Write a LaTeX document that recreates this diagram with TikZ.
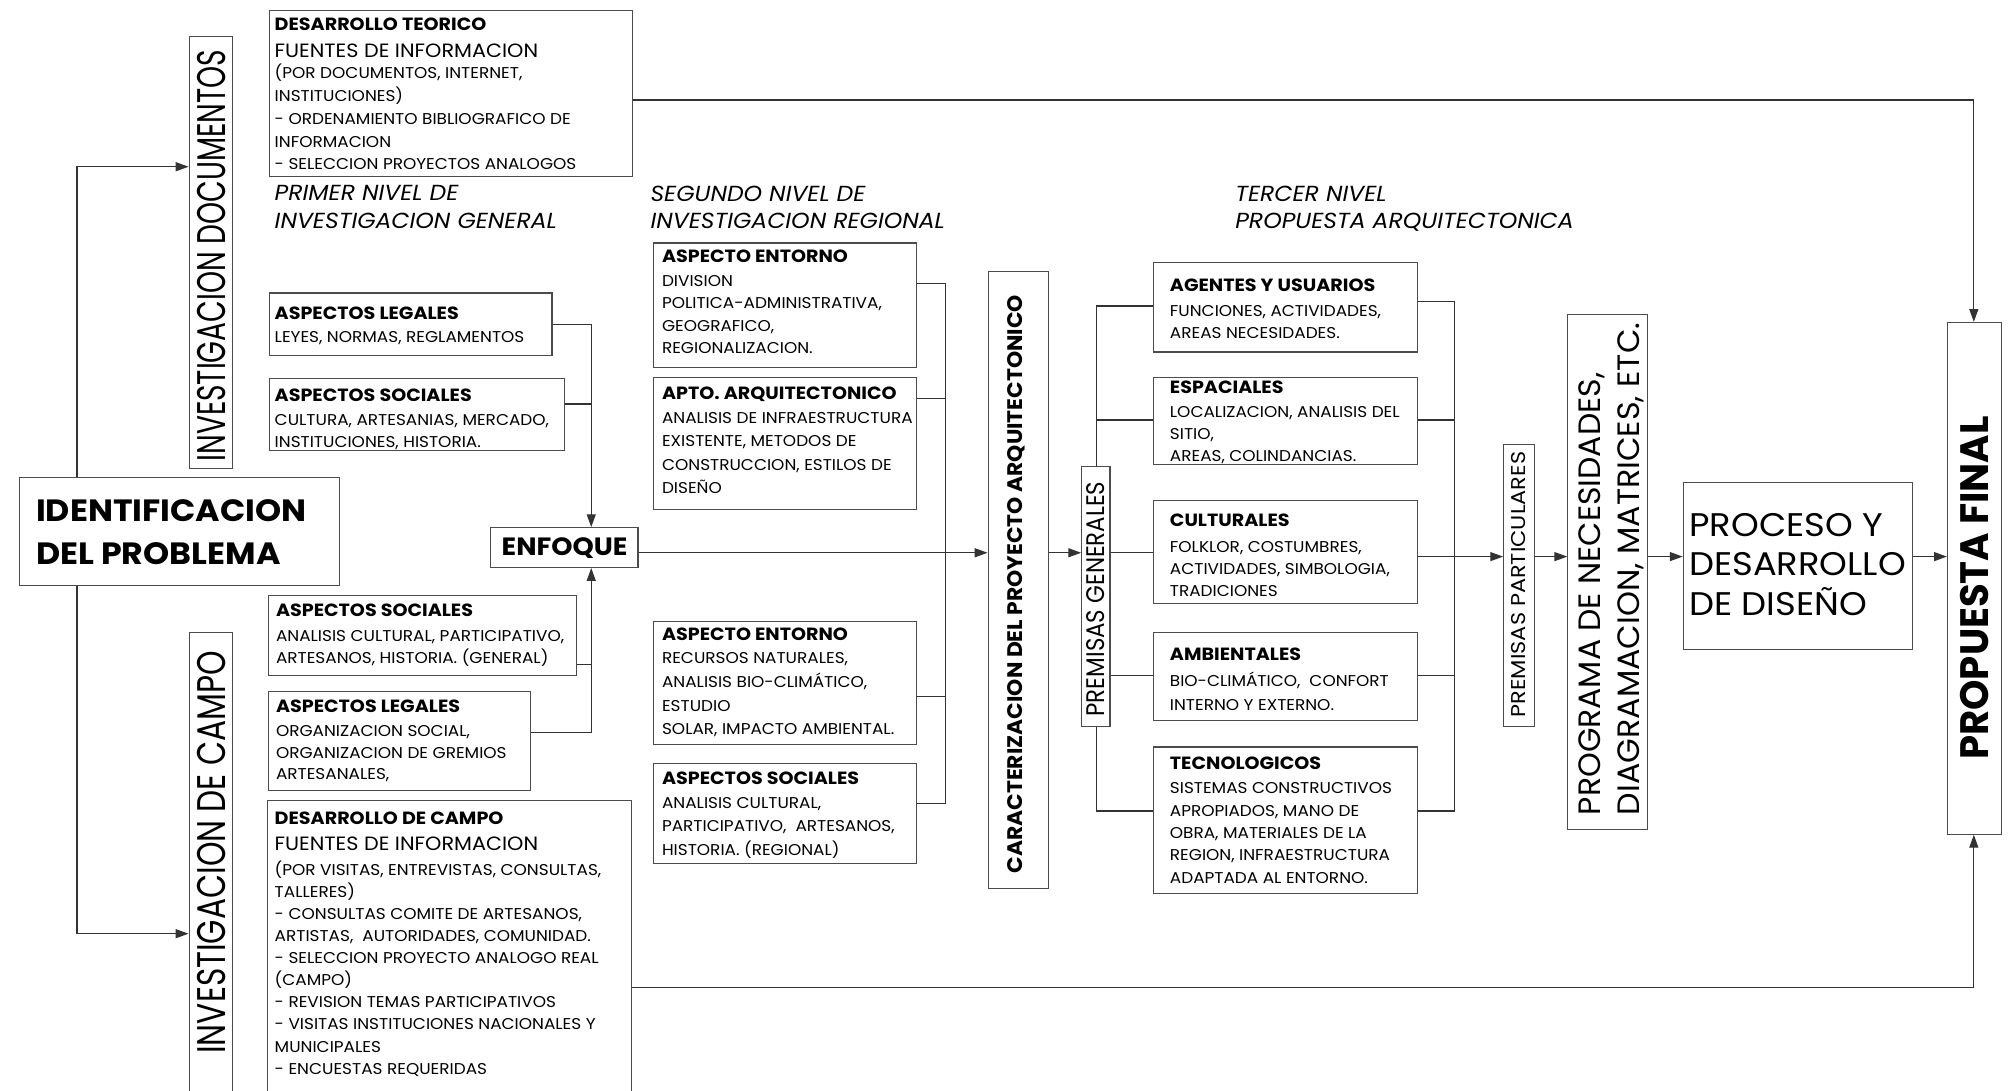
\documentclass[tikz,border=0pt]{standalone}
\usepackage{fontspec}
\setmainfont{Poppins}[FakeStretch=1.08]
\usetikzlibrary{arrows.meta}
\newcommand\bodyfont{\fontsize{12.2}{14}\selectfont}
\newcommand\hdfont{\bfseries\fontsize{13.8}{16}\selectfont}
\newcommand\blines[5]{\foreach \tl [count=\ii from 0] in {#5}{\node[bd] (#1-\ii) at (#2,{#3+\ii*#4}) {\tl};}}
\newcommand\mybox[5]{\node[box,minimum width={(#4)-(#2)},minimum height={(#5)-(#3)}] (#1) at (#2,#3) {};}
\begin{document}
\begin{tikzpicture}[x=1pt,y=-1pt,
 box/.style={draw=black!70,line width=0.9pt,anchor=north west,inner sep=0pt},
 ln/.style={draw=black!80,line width=0.9pt},
 arr/.style={ln,-{Triangle[length=10pt,width=7pt]}},
 bd/.style={anchor=base west,inner sep=0pt,yshift=-4.3pt,font=\bodyfont},
 hd/.style={anchor=base west,inner sep=0pt,yshift=-4.8pt,font=\hdfont},
 big/.style={anchor=base west,inner sep=0pt,yshift=-5.2pt,font=\fontsize{15}{17}\selectfont},
 lvl/.style={anchor=base west,inner sep=0pt,font=\itshape\fontsize{17}{20}\selectfont},
 rot/.style={rotate=90,inner sep=0pt}]
\path[fill=white] (0,0) rectangle (1568,850);
\useasboundingbox (0,0) rectangle (1568,850);

% ---------- boxes ----------
\mybox{invdoc}{147}{28}{181}{365}
\mybox{invcampo}{147}{493}{181}{870}
\mybox{ident}{15}{372}{264}{456}
\mybox{dt}{210}{8}{493}{137}
\mybox{al1}{210}{228}{430}{277}
\mybox{as1}{210}{295}{440}{351}
\mybox{enf}{382}{411}{497}{442}
\mybox{as2}{209}{464}{449}{526}
\mybox{al2}{209}{539}{413}{616}
\mybox{dc}{208}{624}{492}{870}
\mybox{ae1}{509}{189}{714}{286}
\mybox{apto}{509}{294}{714}{397}
\mybox{ae2}{509}{484}{714}{580}
\mybox{as3}{509}{595}{714}{673}
\mybox{car}{770}{211}{817}{692}
\mybox{pg}{843}{363}{865}{566}
\mybox{ag}{899}{204}{1105}{274}
\mybox{esp}{899}{294}{1105}{362}
\mybox{cul}{899}{390}{1105}{470}
\mybox{amb}{899}{493}{1105}{561}
\mybox{tec}{899}{582}{1105}{696}
\mybox{pp}{1172}{346}{1196}{566}
\mybox{prog}{1222}{245}{1284}{646}
\mybox{proc}{1312}{376}{1491}{506}
\mybox{pf}{1518}{251}{1560}{650}

% ---------- level labels ----------
\node[lvl] (l1a) at (214,156) {PRIMER NIVEL DE};
\node[lvl] (l1b) at (214,178.5) {INVESTIGACION GENERAL};
\node[lvl] (l2a) at (507,157) {SEGUNDO NIVEL DE};
\node[lvl] (l2b) at (507,178.5) {INVESTIGACION REGIONAL};
\node[lvl] (l3a) at (963,157) {TERCER NIVEL};
\node[lvl] (l3b) at (963,178.5) {PROPUESTA ARQUITECTONICA};

% ---------- titles ----------
\node[anchor=base west,inner sep=0pt,font=\bfseries\fontsize{24}{30}\selectfont] (ident-a) at (28,406.8) {IDENTIFICACION};
\node[anchor=base west,inner sep=0pt,font=\bfseries\fontsize{24}{30}\selectfont] (ident-b) at (28,440) {DEL PROBLEMA};
\node[anchor=base west,inner sep=0pt,font=\bfseries\fontsize{19.5}{22}\selectfont] (enf-t) at (391,433.4) {ENFOQUE};
\node[anchor=base west,inner sep=0pt,font=\fontsize{25.5}{30}\selectfont] (proc-a) at (1317,418) {PROCESO Y};
\node[anchor=base west,inner sep=0pt,font=\fontsize{25.5}{30}\selectfont] (proc-b) at (1317,449) {DESARROLLO};
\node[anchor=base west,inner sep=0pt,font=\fontsize{25.5}{30}\selectfont] (proc-c) at (1317,480) {DE DISEÑO};

\node[rot] (invdoc-t) at (165,199.4) {\resizebox{321pt}{22pt}{INVESTIGACION DOCUMENTOS}};
\node[rot] (invcampo-t) at (165,664.6) {\resizebox{314pt}{22pt}{INVESTIGACION DE CAMPO}};
\node[rot] (car-t) at (792.5,455.5) {\resizebox{451pt}{11.7pt}{\bfseries CARACTERIZACION DEL PROYECTO ARQUITECTONICO}};
\node[rot] (pg-t) at (854.5,467) {\resizebox{183pt}{14pt}{PREMISAS GENERALES}};
\node[rot] (pp-t) at (1184,455.7) {\resizebox{207pt}{11pt}{PREMISAS PARTICULARES}};
\node[rotate=90,anchor=base west,inner sep=0pt] (prog-a) at (1248.3,635.8) {\resizebox{345pt}{17pt}{PROGRAMA DE NECESIDADES,}};
\node[rotate=90,anchor=base west,inner sep=0pt] (prog-b) at (1278.6,635.8) {\resizebox{384pt}{17pt}{DIAGRAMACION, MATRICES, ETC.}};
\node[rot] (pf-t) at (1539.8,458.4) {\resizebox{268pt}{22pt}{\bfseries PROPUESTA FINAL}};

% ---------- box texts, left ----------
\node[hd] (dt-h) at (214,18.7) {DESARROLLO TEORICO};
\node[big] (dt-f) at (214,39.4) {FUENTES DE INFORMACION};
\blines{dt}{214}{57}{17.8}{{(POR DOCUMENTOS, INTERNET,},{INSTITUCIONES)},{- ORDENAMIENTO BIBLIOGRAFICO DE},{INFORMACION},{- SELECCION PROYECTOS ANALOGOS}}

\node[hd] (al1-h) at (214,244) {ASPECTOS LEGALES};
\blines{al1}{214}{263}{17.5}{{LEYES, NORMAS, REGLAMENTOS}}
\node[hd] (as1-h) at (214,308.5) {ASPECTOS SOCIALES};
\blines{as1}{214}{327.7}{17}{{CULTURA, ARTESANIAS, MERCADO,},{INSTITUCIONES, HISTORIA.}}

\node[hd] (as2-h) at (215,476) {ASPECTOS SOCIALES};
\blines{as2}{215}{495.6}{17.2}{{ANALISIS CULTURAL, PARTICIPATIVO,},{ARTESANOS, HISTORIA. (GENERAL)}}
\node[hd] (al2-h) at (215,550.7) {ASPECTOS LEGALES};
\blines{al2}{215}{570}{16.9}{{ORGANIZACION SOCIAL,},{ORGANIZACION DE GREMIOS},{ARTESANALES,}}

\node[hd] (dc-h) at (214,638.4) {DESARROLLO DE CAMPO};
\node[big] (dc-f) at (214,657.6) {FUENTES DE INFORMACION};
\blines{dc}{214}{678}{17.25}{{(POR VISITAS, ENTREVISTAS, CONSULTAS,},{TALLERES)},{- CONSULTAS COMITE DE ARTESANOS,},{ARTISTAS,\ \ AUTORIDADES, COMUNIDAD.},{- SELECCION PROYECTO ANALOGO REAL},{(CAMPO)},{- REVISION TEMAS PARTICIPATIVOS},{- VISITAS INSTITUCIONES NACIONALES Y},{MUNICIPALES},{- ENCUESTAS REQUERIDAS}}

% ---------- regional ----------
\node[hd] (ae1-h) at (516,199.6) {ASPECTO ENTORNO};
\blines{ae1}{516}{219.1}{17.5}{{DIVISION},{POLITICA-ADMINISTRATIVA,},{GEOGRAFICO,},{REGIONALIZACION.}}
\node[hd] (apto-h) at (516,306.7) {APTO. ARQUITECTONICO};
\blines{apto}{516}{326.2}{18}{{ANALISIS DE INFRAESTRUCTURA},{EXISTENTE, METODOS DE},{CONSTRUCCION, ESTILOS DE},{DISEÑO}}
\node[hd] (ae2-h) at (516,494.6) {ASPECTO ENTORNO};
\blines{ae2}{516}{513.3}{18.4}{{RECURSOS NATURALES,},{ANALISIS BIO-CLIMÁTICO,},{ESTUDIO},{SOLAR, IMPACTO AMBIENTAL.}}
\node[hd] (as3-h) at (516,606.9) {ASPECTOS SOCIALES};
\blines{as3}{516}{626.4}{18}{{ANALISIS CULTURAL,},{PARTICIPATIVO,\ \ ARTESANOS,},{HISTORIA. (REGIONAL)}}

% ---------- third level ----------
\node[hd] (ag-h) at (912,222.2) {AGENTES Y USUARIOS};
\blines{ag}{912}{242.5}{17}{{FUNCIONES, ACTIVIDADES,},{AREAS NECESIDADES.}}
\node[hd] (esp-h) at (912,302) {ESPACIALES};
\blines{esp}{912}{321.5}{17}{{LOCALIZACION, ANALISIS DEL},{SITIO,},{AREAS, COLINDANCIAS.}}
\node[hd] (cul-h) at (912,406) {CULTURALES};
\blines{cul}{912}{426.3}{17.1}{{FOLKLOR, COSTUMBRES,},{ACTIVIDADES, SIMBOLOGIA,},{TRADICIONES}}
\node[hd] (amb-h) at (912,509.9) {AMBIENTALES};
\blines{amb}{912}{531.2}{18.2}{{BIO-CLIMÁTICO,\ \ CONFORT},{INTERNO Y EXTERNO.}}
\node[hd] (tec-h) at (912,595) {TECNOLOGICOS};
\blines{tec}{912}{614.7}{17.4}{{SISTEMAS CONSTRUCTIVOS},{APROPIADOS, MANO DE},{OBRA, MATERIALES DE LA},{REGION, INFRAESTRUCTURA},{ADAPTADA AL ENTORNO.}}

% ---------- coordinates ----------
\coordinate (lt) at (60,130);
\coordinate (lb) at (60,728);
\coordinate (j1) at (461,253);
\coordinate (j2) at (461,315);
\coordinate (j3) at (461,518);
\coordinate (j4) at (461,571);
\coordinate (m1) at (0,431);
\coordinate (m2) at (0,434);
\coordinate (r1) at (737,221);
\coordinate (r2) at (737,311);
\coordinate (r3) at (737,543);
\coordinate (r4) at (737,626.4);
\coordinate (g1) at (855,238.6);
\coordinate (g2) at (855,327.5);
\coordinate (g4) at (855,526.8);
\coordinate (g5) at (855,632.4);
\coordinate (h1) at (1134,235.2);
\coordinate (h2) at (1134,327.5);
\coordinate (h4) at (1134,526.8);
\coordinate (h5) at (1134,632.4);
\coordinate (t1) at (1539,78);
\coordinate (t2) at (1539,770);

% ---------- connectors ----------
\draw[arr] (ident.north -| lt) -- (lt) -- (lt -| invdoc.west);
\draw[arr] (ident.south -| lb) -- (lb) -- (lb -| invcampo.west);
\draw[ln] (al1.east |- j1) -- (j1);
\draw[ln] (as1.east |- j2) -- (j2);
\draw[arr] (j1) -- (enf.north -| j1);
\draw[ln] (as2.east |- j3) -- (j3);
\draw[arr] (al2.east |- j4) -- (j4) -- (enf.south -| j4);
\draw[arr] (enf.east |- m1) -- (car.west |- m1);
\draw[ln] (ae1.east |- r1) -- (r1) -- (r4) -- (as3.east |- r4);
\draw[ln] (apto.east |- r2) -- (r2);
\draw[ln] (ae2.east |- r3) -- (r3);
\draw[arr] (car.east |- m1) -- (pg.west |- m1);
\draw[ln] (pg.north -| g1) -- (g1) -- (ag.west |- g1);
\draw[ln] (g2) -- (esp.west |- g2);
\draw[ln] (pg.east |- m1) -- (cul.west |- m1);
\draw[ln] (pg.east |- g4) -- (amb.west |- g4);
\draw[ln] (pg.south -| g5) -- (g5) -- (tec.west |- g5);
\draw[ln] (ag.east |- h1) -- (h1) -- (h5) -- (tec.east |- h5);
\draw[ln] (esp.east |- h2) -- (h2);
\draw[ln] (amb.east |- h4) -- (h4);
\draw[arr] (cul.east |- m2) -- (pp.west |- m2);
\draw[arr] (pp.east |- m2) -- (prog.west |- m2);
\draw[arr] (prog.east |- m2) -- (proc.west |- m2);
\draw[arr] (proc.east |- m2) -- (pf.west |- m2);
\draw[arr] (dt.east |- t1) -- (t1) -- (pf.north -| t1);
\draw[arr] (dc.east |- t2) -- (t2) -- (pf.south -| t2);
\end{tikzpicture}
\end{document}
